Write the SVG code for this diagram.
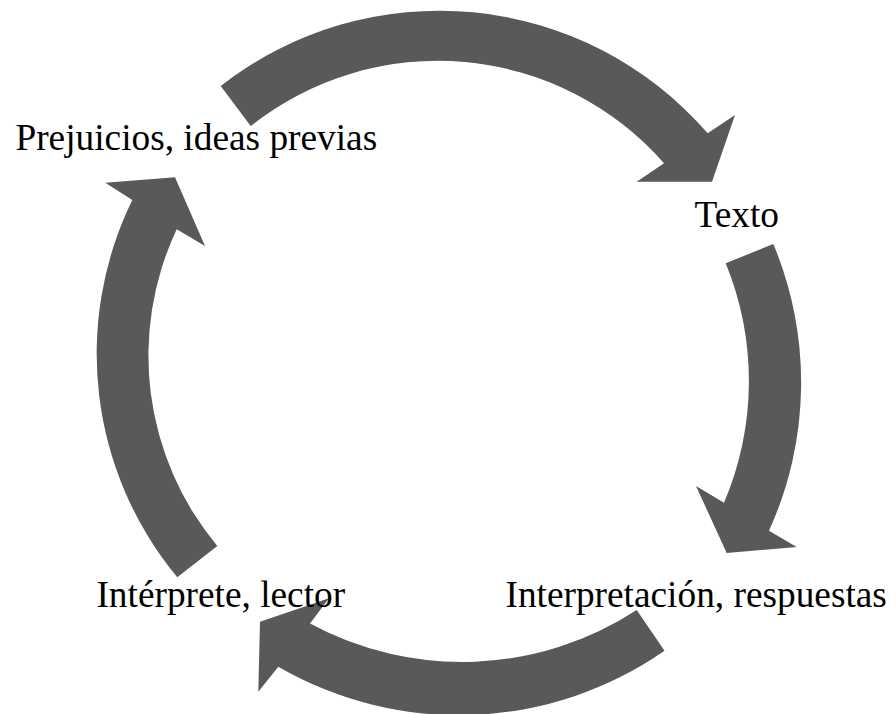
<svg xmlns="http://www.w3.org/2000/svg" width="895" height="714" viewBox="0 0 895 714">
  <style>
    .arrow { fill: #595959; stroke: none; }
    .label { font-family: "Liberation Serif", "Times New Roman", serif; font-size: 37.33px; fill: #000000; text-anchor: middle; }
  </style>
  <rect x="0" y="0" width="895" height="714" fill="#ffffff"/>
  <g id="connectors">
    <path id="arrow-top" class="arrow" d="M220.7,86 A355,355 0 0 1 707.7,133.3 L735,115 L712,181.7 L636.7,181.7 L664,163.3 A301,301 0 0 0 250.7,126 Z"/>
    <path id="arrow-right" class="arrow" d="M773.3,244 A358,358 0 0 1 769,530.7 L796.7,547 L726.7,553 L696,486 L724,502.7 A310,310 0 0 0 725.7,263.3 Z"/>
    <path id="arrow-bottom" class="arrow" d="M664.5,650.7 A360,360 0 0 1 278.3,666.7 L258.3,691.7 L260,621.7 L329,598.3 L310,623.6 A320,320 0 0 0 636.7,610 Z"/>
    <path id="arrow-left" class="arrow" d="M177.3,577.3 A350,350 0 0 1 132.3,200 L105.3,182.7 L175,177.3 L205,246 L176.7,229.3 A297,297 0 0 0 217.3,546 Z"/>
  </g>
  <g id="node-prejuicios">
    <text class="label" x="196.3" y="149.5">Prejuicios, ideas previas</text>
  </g>
  <g id="node-texto">
    <text class="label" x="736.7" y="226.7">Texto</text>
  </g>
  <g id="node-interpretacion">
    <text class="label" x="696.2" y="606.7">Interpretación, respuestas</text>
  </g>
  <g id="node-interprete">
    <text class="label" x="220.8" y="606.7">Intérprete, lector</text>
  </g>
</svg>
